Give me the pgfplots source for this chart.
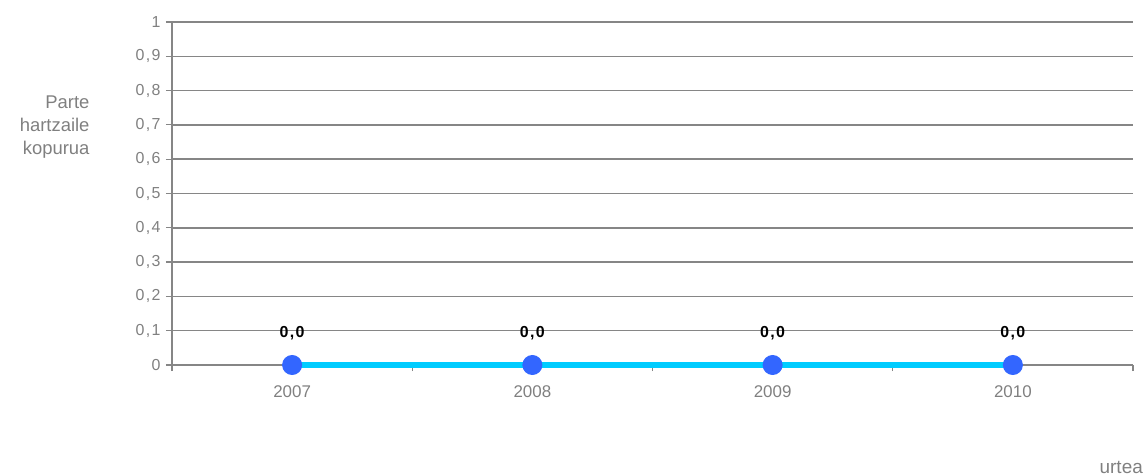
\documentclass[border=0pt]{standalone}
\usepackage{pgfplots}
\pgfplotsset{compat=1.18}
\usepackage{fontspec}
\setmainfont{Liberation Sans}
\newcommand\dc[2]{#1\kern1.4bp,\kern1.4bp#2}
\definecolor{axgray}{HTML}{868686}
\definecolor{txtgray}{HTML}{808080}
\definecolor{cyanline}{HTML}{00CCFF}
\definecolor{dotblue}{HTML}{3366FF}
\begin{document}
\begin{tikzpicture}
\useasboundingbox (-172bp,-111bp) rectangle (975bp,365bp);
\begin{axis}[
  at={(0,0)}, anchor=south west,
  scale only axis, width=961bp, height=343bp,
  xmin=-0.5, xmax=3.5, ymin=0, ymax=1,
  clip=false,
  /pgf/number format/assume math mode=true,
  axis x line*=bottom, axis y line*=left,
  axis line style={axgray, line width=1.4bp},
  xtick={-0.5,0.5,1.5,2.5,3.5}, xticklabels={},
  extra x ticks={0,1,2,3},
  extra x tick labels={2007,2008,2009,2010},
  extra x tick style={major tick length=0pt, grid=none,
     xticklabel style={yshift=-17bp}},
  ytick={0,0.1,...,1.01},
  yticklabels={{0},{\dc01},{\dc02},{\dc03},{\dc04},{\dc05},{\dc06},{\dc07},{\dc08},{\dc09},{1}},
  tick align=outside,
  major tick length=6bp,
  tick style={axgray, line width=1.2bp},
  ymajorgrids,
  major grid style={axgray, line width=1.5bp},
  x tick label style={font=\fontsize{17}{20}\selectfont, text=txtgray},
  y tick label style={font=\fontsize{16}{19}\selectfont, text=txtgray, xshift=-2bp},
]
\addplot[cyanline, line width=6bp, mark=*, mark size=9.5bp,
  mark options={fill=dotblue, draw=dotblue, line width=1bp, solid},
  nodes near coords={\dc00},
  every node near coord/.append style={anchor=center, yshift=32bp,
     font=\bfseries\fontsize{16}{19}\selectfont, text=black}]
  coordinates {(0,0) (1,0) (2,0) (3,0)};
\node[align=right, anchor=east, text=txtgray,
  font=\fontsize{18.5}{23}\selectfont]
  at (rel axis cs:0,0.7) [xshift=-79bp, yshift=-2bp] {Parte\\hartzaile\\kopurua};
\node[anchor=base east, text=txtgray, font=\fontsize{19}{22}\selectfont,
  inner sep=0pt]
  at (rel axis cs:1.0104,0) [yshift=-108bp] {urtea};
\end{axis}
\end{tikzpicture}
\end{document}
